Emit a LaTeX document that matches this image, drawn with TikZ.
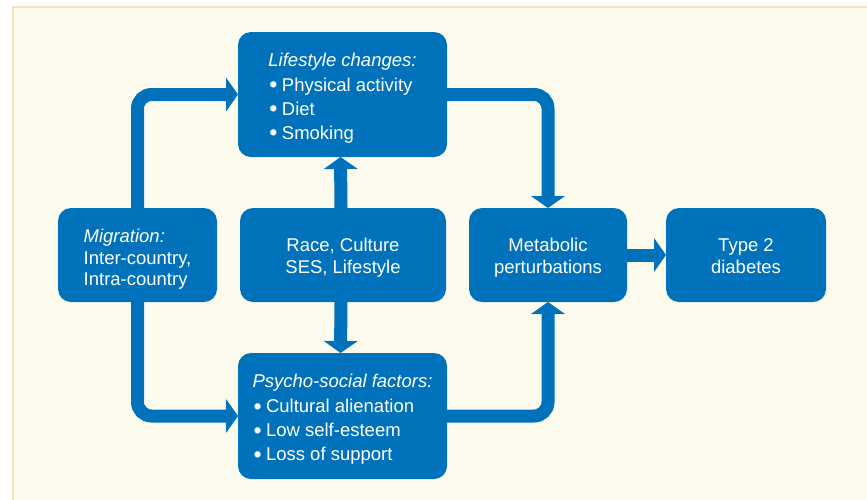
\documentclass[tikz,border=0pt]{standalone}
\usepackage{fontspec}
\setmainfont{Liberation Sans}
\usetikzlibrary{arrows.meta}
\definecolor{boxblue}{HTML}{0072BC}
\definecolor{bgcream}{HTML}{FDFBEE}
\definecolor{framecol}{HTML}{F2E6BA}
\newcommand{\lowtext}[3]{\raisebox{-#1}[\height][\depth]{\begin{tabular}{@{}#2@{}}#3\end{tabular}}}
\newcommand{\bul}{\makebox[13.5pt][l]{\hspace{1pt}\raisebox{-1.6pt}{\scalebox{1.25}{•}}}}
\begin{document}
\begin{tikzpicture}[x=1pt,y=-1pt,
  box/.style={fill=boxblue, text=white, rounded corners=13pt, inner sep=0pt, outer sep=0pt,
    font=\fontsize{18.5}{22}\selectfont},
  listbox/.style={box, font=\fontsize{18.5}{24}\selectfont},
  conn/.style={draw=boxblue, line width=13pt, rounded corners=14pt,
    -{Triangle[width=34pt,length=12pt,line width=0pt]}}
]
\useasboundingbox (0,0) rectangle (867,499);
\fill[white] (0,0) rectangle (867,499);
\draw[fill=bgcream, draw=framecol, line width=2pt] (12.5,7) rectangle (880,510);

\node[listbox, minimum width=209pt, minimum height=125pt] (life) at (342.5,94.5)
  {\lowtext{3.5pt}{l}{\textit{Lifestyle changes:}\\[1pt] \bul Physical activity\\ \bul Diet\\ \bul Smoking}};
\node[box, font=\fontsize{18.5}{21.5}\selectfont, minimum width=159pt, minimum height=94pt] (mig) at (137.5,255)
  {\lowtext{5pt}{l}{\textit{Migration:}\\ Inter-country,\\ Intra-country}};
\node[box, minimum width=206pt, minimum height=94pt] (race) at (343,255)
  {\lowtext{3.5pt}{c}{Race, Culture\\ SES, Lifestyle}};
\node[box, minimum width=158pt, minimum height=94pt] (meta) at (548,255)
  {\lowtext{3.5pt}{c}{Metabolic\\ perturbations}};
\node[box, minimum width=160pt, minimum height=94pt] (t2) at (746,255)
  {\lowtext{3.5pt}{c}{Type 2\\ diabetes}};
\node[listbox, minimum width=209pt, minimum height=126pt] (psy) at (342.5,416)
  {\lowtext{3.5pt}{l}{\textit{Psycho-social factors:}\\[1pt] \bul Cultural alienation\\ \bul Low self-esteem\\ \bul Loss of support}};

\draw[conn] (mig.north) |- (life.west);
\draw[conn] (mig.south) |- (psy.west);
\draw[conn] (life.east) -| (meta.north);
\draw[conn] (psy.east) -| (meta.south);
\draw[conn] ([xshift=-2pt]race.north) -- ([xshift=-2pt]life.south);
\draw[conn] ([xshift=-2pt]race.south) -- ([xshift=-2pt]psy.north);
\draw[conn] (meta.east) -- (t2.west);
\end{tikzpicture}
\end{document}
